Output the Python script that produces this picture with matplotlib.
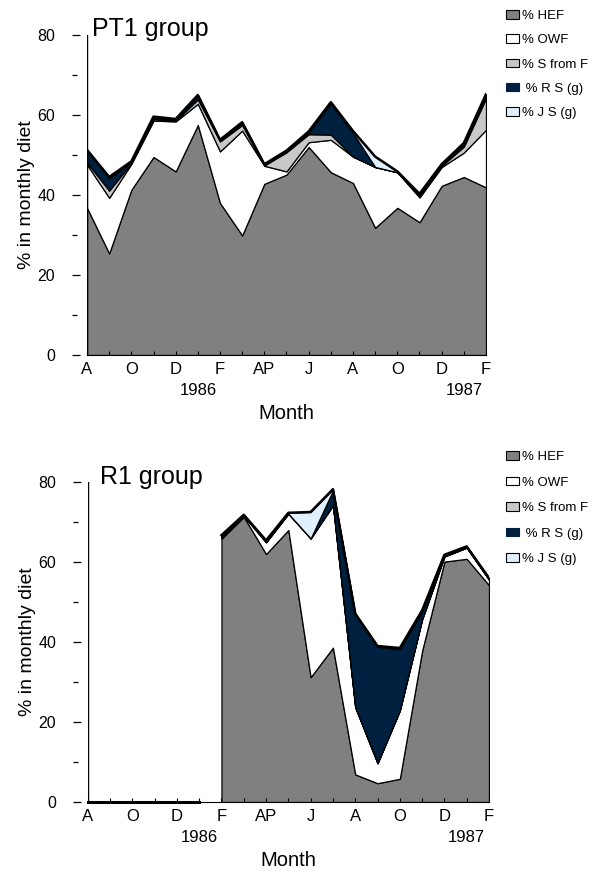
import matplotlib
matplotlib.use("Agg")
import matplotlib.pyplot as plt
from matplotlib.patches import Patch
import numpy as np

plt.rcParams['font.family'] = ['Liberation Sans', 'DejaVu Sans']

# months Aug 1985 .. Feb 1987
month_labels = ['A', '', 'O', '', 'D', '', 'F', '', 'AP', '', 'J', '', 'A', '', 'O', '', 'D', '', 'F']
months = np.arange(len(month_labels))
year_pos = [5, 17]
year_labels = ['1986', '1987']

series_names = ['% HEF', '% OWF', '% S from F', ' % R S (g)', '% J S (g)']
colors = ['#808080', '#ffffff', '#c8c8c8', '#00203f', '#e0f0ff']

# PT1 group
pt1_hef = [36.8, 25.4, 41.3, 49.5, 45.9, 57.5, 38.0, 29.9, 42.8, 45.1, 52.0, 45.7, 43.0, 31.8, 36.8, 33.2, 42.3, 44.5, 41.9]
pt1_owf = [10.8, 13.9, 6.5, 9.1, 12.5, 5.3, 12.9, 26.2, 4.5, 0.8, 1.2, 8.1, 6.6, 15.2, 8.9, 6.2, 4.7, 6.1, 14.4]
pt1_sf = [0.5, 1.8, 0.2, 0.4, 0.2, 1.1, 2.5, 1.4, 0.1, 4.8, 2.0, 1.3, 0.0, 0.0, 0.0, 0.3, 0.3, 1.5, 7.9]
pt1_rs = [3.0, 3.1, 0.2, 0.4, 0.2, 0.9, 0.2, 0.5, 0.2, 0.2, 0.4, 7.9, 5.9, 0.0, 0.0, 0.4, 0.3, 0.6, 0.6]
pt1_js = [0.2, 0.3, 0.2, 0.2, 0.2, 0.2, 0.2, 0.2, 0.1, 0.2, 0.3, 0.2, 0.5, 2.6, 0.2, 0.2, 0.1, 0.3, 0.4]

# R1 group (no samples before Feb 1986)
r1_hef = [0, 0, 0, 0, 0, 0, 65.8, 71.3, 62.0, 68.0, 31.2, 38.6, 6.9, 4.7, 5.8, 37.8, 60.1, 60.8, 54.2]
r1_owf = [0, 0, 0, 0, 0, 0, 0.3, 0.2, 2.9, 4.1, 34.7, 35.6, 16.8, 5.0, 17.1, 7.9, 1.3, 2.8, 1.4]
r1_sf = [0, 0, 0, 0, 0, 0, 0.1, 0.1, 0.1, 0.0, 0.0, 0.0, 0.0, 0.0, 0.0, 0.0, 0.0, 0.0, 0.0]
r1_rs = [0, 0, 0, 0, 0, 0, 0.2, 0.1, 0.2, 0.0, 0.0, 3.7, 23.2, 29.1, 15.3, 2.0, 0.1, 0.2, 0.1]
r1_js = [0, 0, 0, 0, 0, 0, 0.3, 0.1, 0.2, 0.2, 6.6, 0.3, 0.2, 0.2, 0.3, 0.2, 0.3, 0.1, 0.3]


def draw(ax, layers, title, title_x, title_y):
    data = np.array(layers, dtype=float)
    total = data.sum(axis=0)
    start = int(np.argmax(total > 0))
    x = months[start:]
    if start > 0:
        ax.plot(months[:start], np.zeros(start), color='black', lw=2.2, zorder=5, clip_on=False)
    lower = np.zeros(len(x))
    for vals, c in zip(data, colors):
        upper = lower + vals[start:]
        ax.fill_between(x, lower, upper, facecolor=c, edgecolor='black', lw=0.9)
        lower = upper
    ax.plot(x, lower, color='black', lw=1.8)

    ax.set_xlim(0, len(months) - 1)
    ax.set_ylim(0, 80)
    for s in ['top', 'right']:
        ax.spines[s].set_visible(False)
    ax.spines['left'].set_position(('outward', 10.8))
    ax.spines['left'].set_visible(False)
    ax.axvline(0, color='black', lw=1.0)
    ax.set_yticks([0, 20, 40, 60, 80])
    ax.set_yticks([10, 30, 50, 70], minor=True)
    ax.tick_params(axis='y', which='major', direction='in', length=5.8, width=0.9, pad=12, labelsize=11.5)
    ax.tick_params(axis='y', which='minor', direction='in', length=3.6, width=0.9)
    ax.set_xticks(months)
    ax.set_xticklabels(month_labels)
    ax.tick_params(axis='x', direction='in', length=3, width=0.8, pad=5, labelsize=12)
    for xp, yl in zip(year_pos, year_labels):
        ax.annotate(yl, xy=(xp, 0), xycoords=('data', 'axes fraction'), xytext=(0, -20),
                    textcoords='offset points', ha='center', va='top', fontsize=12)
    ax.set_ylabel('% in monthly diet', fontsize=14)
    ax.yaxis.set_label_coords(-0.13, 0.5)
    ax.set_xlabel('Month', fontsize=14.5, va='top')
    ax.xaxis.set_label_coords(0.5, -0.153)
    ax.text(title_x, title_y, title, transform=ax.transAxes, fontsize=18, va='baseline', ha='left')


fig = plt.figure(figsize=(5.98, 8.73), dpi=100)
ax1 = fig.add_axes([87 / 598, 1 - 355 / 873, 399 / 598, 320 / 873])
ax2 = fig.add_axes([87.7 / 598, 1 - 802 / 873, 401.3 / 598, 320 / 873])

draw(ax1, [pt1_hef, pt1_owf, pt1_sf, pt1_rs, pt1_js], 'PT1 group', 0.0125, 0.997)
draw(ax2, [r1_hef, r1_owf, r1_sf, r1_rs, r1_js], 'R1 group', 0.03, 0.994)

handles = [Patch(facecolor=c, edgecolor=('black' if i != 3 else c), lw=0.8) for i, c in enumerate(colors)]
for top_px, spacing in [(10, 0.93), (451, 1.03)]:
    fig.legend(handles, series_names, loc='upper left', bbox_to_anchor=(506 / 598, 1 - top_px / 873),
               frameon=False, fontsize=9.5, borderpad=0, borderaxespad=0, labelspacing=spacing,
               handlelength=0.95, handleheight=0.62, handletextpad=0.3)

fig.savefig('out.png', dpi=100)
